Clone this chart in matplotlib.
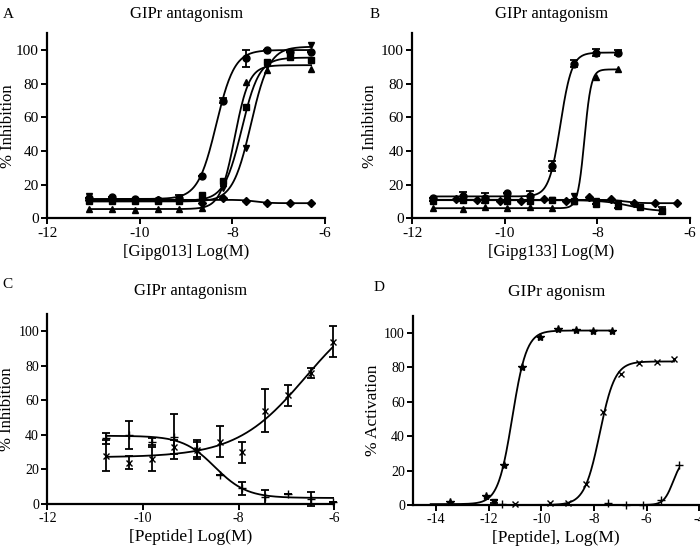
import matplotlib
matplotlib.use('Agg')
import matplotlib.pyplot as plt
import numpy as np

plt.rcParams['font.family'] = ['Liberation Serif', 'DejaVu Serif']
plt.rcParams['axes.unicode_minus'] = False

# ---- Panel A: Gipg013 antagonism ----
xa = [-11.1, -10.6, -10.1, -9.6, -9.15, -8.65, -8.2, -7.7, -7.25, -6.75, -6.3]
a_circle = [12, 12.5, 11.5, 11, 12, 25, 70, 95, 100, 99, 99]
a_circle_err = [0, 0, 0, 0, 2, 0, 1.5, 5, 0, 0, 0]
a_square = [10, 10, 10, 10, 10.5, 14, 22, 66, 93, 96, 94]
a_tri_up = [5.5, 5.5, 5, 5.5, 5.5, 6, 21, 81, 88, 97, 89]
a_tri_dn = [13, 10, 10, 10, 10, 10, 18, 42, 91, 98, 103]
a_diamond = [11, 11, 11, 11, 11, 9, 12, 10.5, 9, 9, 9]
# 4PL fit params: (left asymptote, right asymptote, logEC50, hill)
a_fits = {'o': (11.5, 100, -8.35, 2.2), 's': (10.5, 95.5, -7.8, 2.3),
          '^': (5.5, 91, -7.95, 2.8), 'v': (10, 102, -7.6, 2.2),
          'D': (11, 9, -7.5, 3)}

# ---- Panel B: Gipg133 antagonism ----
xb = [-11.55, -10.9, -10.43, -9.96, -9.46, -8.99, -8.5, -8.03, -7.56]
b_circle = [12, 13, 12, 15, 13, 31, 92, 98.5, 98.5]
b_circle_err = [0, 2.5, 3, 0, 3, 3, 2, 2, 1.5]
b_tri_up = [6, 5.5, 6.5, 6, 6.5, 6, 10, 84, 88.5]
b_tri_dn = [11, 11, 11, 11, 11, 11, 13, 10, 9]
xb_sq = [-11.55, -10.9, -10.43, -9.96, -9.46, -8.99, -8.5, -8.03, -7.56, -7.08, -6.6]
b_square = [10, 11, 11, 10.5, 10, 11, 10, 8.5, 7.5, 6.5, 4.5]
b_square_err = [0, 0, 0, 0, 0, 0, 0, 0, 1.5, 0, 2]
xb_dia = [-11.05, -10.6, -10.1, -9.65, -9.15, -8.68, -8.18, -7.7, -7.22, -6.76, -6.29]
b_diamond = [11.5, 11, 10, 10.5, 11.5, 10.5, 12.5, 11.5, 9, 9, 9]
b_fits = {'o': (13, 98.5, -8.8, 3.5), '^': (6, 88.5, -8.28, 6),
          'v': (11, 9.5, -7.5, 2), 's': (10.8, 4, -7.3, 1.5),
          'D': (11, 9, -7.4, 3)}

# ---- Panel C: peptide antagonism ----
xc = [-10.77, -10.29, -9.82, -9.35, -8.88, -8.4, -7.92, -7.45, -6.96, -6.49, -6.02]
c_plus = [38, 40, 36, 39, 32, 17, 9, 4, 6, 3, 1]
c_plus_err = [3, 8, 2, 13, 5, 0, 4, 4, 0, 4, 0]
c_cross = [28, 24, 26, 33, 31, 36, 30, 54, 63, 76, 94]
c_cross_err = [9, 4, 7, 4, 5, 9, 6, 12.5, 6, 3, 9]
c_fits = {'+': (39.5, 3.5, -8.5, 1.3), 'x': (27, 120, -6.6, 0.6)}

# ---- Panel D: peptide agonism ----
xd_star = [-13.47, -12.11, -11.42, -10.75, -10.05, -9.37, -8.68, -8.03, -7.33]
d_star = [2, 5, 23, 80, 98, 102.5, 102, 101.5, 101]
xd_cross = [-11.0, -9.67, -9.0, -8.3, -7.65, -6.99, -6.28, -5.62, -4.96]
d_cross = [0.5, 1, 1, 12, 54, 76, 82.5, 83, 85]
xd_plus = [-11.5, -7.47, -6.78, -6.13, -5.45, -4.77]
d_plus = [0.5, 1, 0, 0, 3, 23]
xd_tri = [-11.8]
d_tri = [2]
d_fits = {'*': (0.5, 101.5, -11.1, 1.6, -14.2, -7.33),
          'x': (0, 83.5, -7.78, 1.5, -11.0, -4.96),
          '+': (0, 27, -5.0, 2.5, -6.1, -4.77)}


def logistic(x, lo, hi, ec50, hill):
    return lo + (hi - lo) / (1 + 10 ** ((ec50 - x) * hill))


def fit_line(ax, x0, x1, p):
    xx = np.linspace(x0, x1, 300)
    ax.plot(xx, logistic(xx, *p), color='black', lw=1.3, zorder=2)


def style(ax, xlim, xticks, tick_fs):
    ax.set_xlim(*xlim)
    ax.set_ylim(0, 110)
    ax.set_xticks(xticks)
    ax.set_yticks([0, 20, 40, 60, 80, 100])
    for s in ['top', 'right']:
        ax.spines[s].set_visible(False)
    for s in ['left', 'bottom']:
        ax.spines[s].set_linewidth(1.6)
    ax.tick_params(direction='out', length=4, width=1.4, labelsize=tick_fs, pad=2)


def pts(ax, x, y, m, err=None, ms=5):
    kw = dict(fmt=m, color='black', ms=ms, capsize=3, elinewidth=1.3,
              capthick=1.3, zorder=3, clip_on=False)
    if err is not None:
        ax.errorbar(x, y, yerr=err, **kw)
    else:
        ax.errorbar(x, y, **kw)


fig = plt.figure(figsize=(7.0, 5.48), dpi=100)

# Panel A
axA = fig.add_axes([0.0676, 0.6016, 0.3967, 0.3378])
pts(axA, xa, a_circle, 'o', a_circle_err)
pts(axA, xa, a_square, 's')
pts(axA, xa, a_tri_up, '^')
pts(axA, xa, a_tri_dn, 'v')
pts(axA, xa, a_diamond, 'D', ms=4.5)
for p in a_fits.values():
    fit_line(axA, xa[0], xa[-1], p)
style(axA, (-12, -6), [-12, -10, -8, -6], 11)
axA.set_ylabel('% Inhibition', fontsize=12, labelpad=0)
axA.set_xlabel('[Gipg013] Log(M)', fontsize=12, labelpad=3)
axA.set_title('GIPr antagonism', fontsize=12, pad=11)

# Panel B
axB = fig.add_axes([0.589, 0.6016, 0.3967, 0.3378])
pts(axB, xb, b_circle, 'o', b_circle_err)
pts(axB, xb, b_tri_up, '^')
pts(axB, xb, b_tri_dn, 'v')
pts(axB, xb_sq, b_square, 's', b_square_err)
pts(axB, xb_dia, b_diamond, 'D', ms=4.5)
fit_line(axB, xb[0], xb[-1], b_fits['o'])
fit_line(axB, xb[0], xb[-1], b_fits['^'])
fit_line(axB, xb[0], xb[-1], b_fits['v'])
fit_line(axB, xb_sq[0], xb_sq[-1], b_fits['s'])
fit_line(axB, xb_dia[0], xb_dia[-1], b_fits['D'])
style(axB, (-12, -6), [-12, -10, -8, -6], 11)
axB.set_ylabel('% Inhibition', fontsize=12, labelpad=2)
axB.set_xlabel('[Gipg133] Log(M)', fontsize=12, labelpad=3)
axB.set_title('GIPr antagonism', fontsize=12, pad=11)

# Panel C
axC = fig.add_axes([0.0676, 0.0803, 0.41, 0.3467])
pts(axC, xc, c_plus, '+', c_plus_err, ms=6)
pts(axC, xc, c_cross, 'x', c_cross_err, ms=5)
fit_line(axC, xc[0], xc[-1], c_fits['+'])
fit_line(axC, xc[0], xc[-1], c_fits['x'])
style(axC, (-12, -6), [-12, -10, -8, -6], 10)
axC.set_ylabel('% Inhibition', fontsize=12, labelpad=2)
axC.set_xlabel('[Peptide] Log(M)', fontsize=12.5, labelpad=3)
axC.set_title('GIPr antagonism', fontsize=12, pad=14)

# Panel D
axD = fig.add_axes([0.5904, 0.0785, 0.4086, 0.345])
pts(axD, xd_star, d_star, '*', ms=6)
pts(axD, xd_cross, d_cross, 'x', ms=5)
pts(axD, xd_plus, d_plus, '+', ms=6)
pts(axD, xd_tri, d_tri, 'v', [1])
for p in d_fits.values():
    fit_line(axD, p[4], p[5], p[:4])
style(axD, (-14.86, -4), [-14, -12, -10, -8, -6, -4], 10)
axD.set_ylabel('% Activation', fontsize=12.5, labelpad=2)
axD.set_xlabel('[Peptide], Log(M)', fontsize=12.5, labelpad=3)
axD.set_title('GIPr agonism', fontsize=12.5, pad=14)

# panel letters
fig.text(0.004, 0.985, 'A', fontsize=11, va='top')
fig.text(0.528, 0.985, 'B', fontsize=11, va='top')
fig.text(0.004, 0.492, 'C', fontsize=11, va='top')
fig.text(0.534, 0.487, 'D', fontsize=11, va='top')

fig.savefig('out.png', dpi=100)
